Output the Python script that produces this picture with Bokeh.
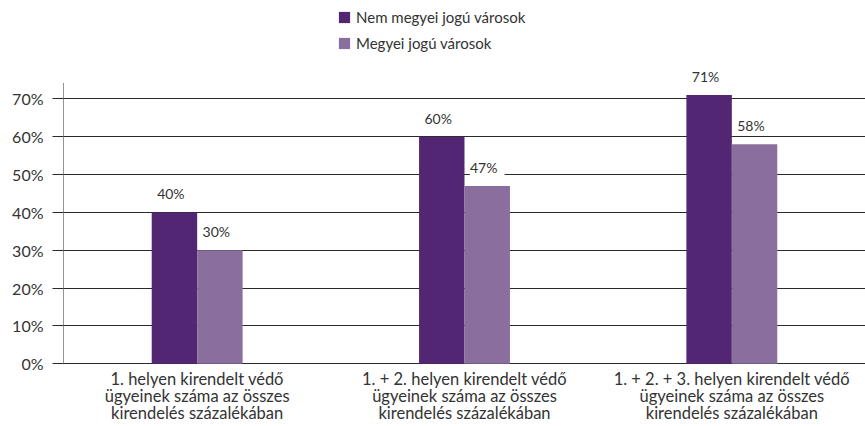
from bokeh.plotting import figure
from bokeh.models import ColumnDataSource, FactorRange, Range1d, LabelSet, Legend, LegendItem, FixedTicker, CustomJSTickFormatter
from bokeh.transform import dodge
from bokeh.core.properties import value
from bokeh.embed import file_html
from bokeh.resources import INLINE

categories = ["1. helyen kirendelt védő\nügyeinek száma az összes\nkirendelés százalékában",
              "1. + 2. helyen kirendelt védő\nügyeinek száma az összes\nkirendelés százalékában",
              "1. + 2. + 3. helyen kirendelt védő\nügyeinek száma az összes\nkirendelés százalékában"]
series_names = ["Nem megyei jogú városok", "Megyei jogú városok"]
nem_megyei = [40, 60, 71]
megyei = [30, 47, 58]
y_ticks = [0, 10, 20, 30, 40, 50, 60, 70]

FONT = "Lato"
TXT = "#333333"
LINE = "#2a2a2a"
C1 = "#522673"
C2 = "#8a6f9e"
Y_MIN, Y_AXIS_TOP, Y_MAX = -0.2, 74.2, 96.0

src = ColumnDataSource(dict(
    cat=categories, a=nem_megyei, b=megyei,
    la=[f" {v}% " for v in nem_megyei], lb=[f" {v}% " for v in megyei]))

p = figure(x_range=FactorRange(*categories), y_range=Range1d(Y_MIN, Y_MAX),
           width=865, height=426, output_backend="svg", toolbar_location=None,
           min_border_left=63, min_border_right=0, min_border_top=0, min_border_bottom=60)
p.outline_line_color = None
p.background_fill_color = "white"

# y axis line (drawn manually so it stops at the original plot-area top)
p.segment(x0=dodge("c", -0.5, range=p.x_range), x1=dodge("c", -0.5, range=p.x_range),
          y0="y0", y1="y1", source=ColumnDataSource(dict(c=[categories[0]], y0=[Y_MIN], y1=[Y_AXIS_TOP])),
          line_color=LINE, line_width=1)

r1 = p.vbar(x=dodge("cat", -0.085, range=p.x_range), top="a", width=0.17, source=src,
            fill_color=C1, line_color=None)
r2 = p.vbar(x=dodge("cat", 0.085, range=p.x_range), top="b", width=0.17, source=src,
            fill_color=C2, line_color=None)

for col, lab, off in (("a", "la", -0.085), ("b", "lb", 0.085)):
    ls = LabelSet(x=dodge("cat", off, range=p.x_range), y=col, text=lab, source=src,
                  text_align="center", text_baseline="bottom", y_offset=10,
                  text_font=value(FONT), text_font_size=value("14px"), text_color=TXT,
                  text_line_height=1.5,
                  background_fill_color="white")
    p.add_layout(ls)

p.yaxis.ticker = FixedTicker(ticks=y_ticks)
p.yaxis.formatter = CustomJSTickFormatter(code="return tick.toFixed(0) + '%'")
p.yaxis.major_label_text_font = FONT
p.yaxis.major_label_text_font_size = "16px"
p.yaxis.major_label_text_color = TXT
p.yaxis.major_tick_out = 11
p.yaxis.major_tick_in = 0
p.yaxis.minor_tick_line_color = None
p.yaxis.axis_line_color = None
p.yaxis.major_tick_line_color = LINE
p.yaxis.major_label_standoff = 9

p.xaxis.axis_line_color = None
p.xaxis.major_tick_line_color = None
p.xaxis.major_label_text_font = FONT
p.xaxis.major_label_text_font_size = "16.5px"
p.xaxis.major_label_text_color = TXT
p.xaxis.major_label_text_line_height = 0.87
p.xaxis.major_label_standoff = 4
p.xaxis.major_tick_out = 0

p.xgrid.grid_line_color = None
p.ygrid.grid_line_color = LINE
p.ygrid.grid_line_width = 1

legend = Legend(items=[LegendItem(label=series_names[0], renderers=[r1]),
                       LegendItem(label=series_names[1], renderers=[r2])],
                location=(274, 312), orientation="vertical",
                padding=0, margin=0, border_line_color=None, background_fill_alpha=0,
                glyph_width=14, glyph_height=14, label_height=14, spacing=8,
                label_standoff=5, label_text_font=FONT, label_text_font_size="15px",
                label_text_color=TXT)
p.add_layout(legend, "center")

open("out.html", "w").write(file_html(p, INLINE))
